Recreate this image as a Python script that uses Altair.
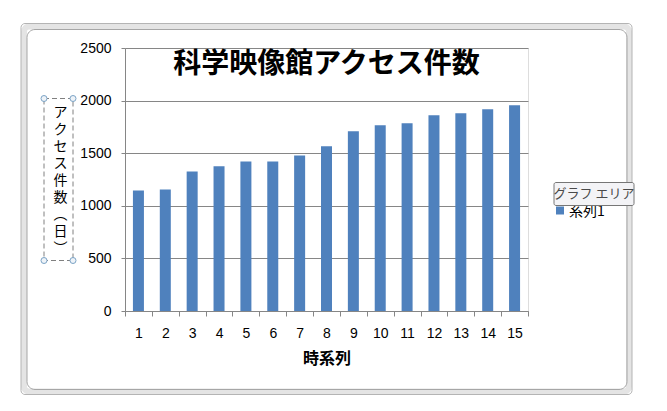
import altair as alt
import pandas as pd

# ---- data ----
periods = ["1", "2", "3", "4", "5", "6", "7", "8", "9", "10", "11", "12", "13", "14", "15"]
accesses = [1146, 1156, 1327, 1375, 1422, 1422, 1479, 1565, 1708, 1765, 1784, 1860, 1879, 1917, 1956]
series_name = "系列1"
y_ticks = [0, 500, 1000, 1500, 2000, 2500]
title_text = "科学映像館アクセス件数"
x_title = "時系列"
y_title_chars = ["ア", "ク", "セ", "ス", "件", "数", "︵", "日", "︶"]
tooltip_text = "グラフ エリア"

df = pd.DataFrame({"period": periods, "accesses": accesses, "series": [series_name] * len(periods)})
one = pd.DataFrame({"k": [0]})

JP = "Noto Sans CJK JP"
NUM = "Liberation Sans"
BLUE = "#4f81bd"
GRID = "#868686"

bars = alt.Chart(df).mark_bar(size=11, color=BLUE).encode(
    x=alt.X(
        "period:N",
        sort=periods,
        scale=alt.Scale(paddingInner=0, paddingOuter=0),
        axis=alt.Axis(
            title=x_title,
            labelAngle=0,
            tickBand="extent",
            tickSize=5,
            tickColor=GRID,
            domainColor=GRID,
            labelFont=NUM,
            labelFontSize=14,
            labelColor="#000000",
            labelPadding=10,
            titleFont=JP,
            titleFontSize=16,
            titleFontWeight="bold",
            titleColor="#000000",
            titlePadding=10,
            grid=False,
        ),
    ),
    y=alt.Y(
        "accesses:Q",
        scale=alt.Scale(domain=[0, 2500]),
        axis=alt.Axis(
            values=y_ticks,
            format="d",
            title=y_title_chars,
            titleAngle=0,
            titleFont=JP,
            titleFontSize=14,
            titleFontWeight="normal",
            titleColor="#000000",
            titleAlign="center",
            titleBaseline="top",
            titleLineHeight=17,
            titleX=-65,
            titleY=57,
            grid=True,
            gridColor=GRID,
            domainColor=GRID,
            tickColor=GRID,
            tickSize=4,
            labelFont=NUM,
            labelFontSize=14,
            labelColor="#000000",
            labelPadding=10,
        ),
    ),
)

# ---- decorations (chart-area frame, selection box, legend, tooltip) ----
def box(x1, x2, y1, y2, **kw):
    return alt.Chart(one).mark_rect(fillOpacity=0, **kw).encode(
        x=alt.value(x1), x2=alt.value(x2), y=alt.value(y1), y2=alt.value(y2)
    )

frame_band = box(-101, 504, -21.5, 343.5, stroke="#e4e4e4", strokeWidth=6, cornerRadius=5)
frame_outer = box(-104, 507, -24.5, 346.5, stroke="#b4b4b4", strokeWidth=1, cornerRadius=4)
frame_inner = box(-98, 502, -18.5, 341.5, stroke="#a6a6a6", strokeWidth=1, cornerRadius=8)

sel_box = box(-81, -52, 50.5, 212.5, stroke="#808080", strokeWidth=1, strokeDash=[5, 3])
handles = [
    alt.Chart(one).mark_point(filled=True, size=36, shape="circle", fill="#eef3f8",
                              stroke="#7ba3c6", strokeWidth=1, opacity=1).encode(
        x=alt.value(hx), y=alt.value(hy))
    for hx, hy in [(-81, 50.5), (-52, 50.5), (-81, 212.5), (-52, 212.5)]
]

legend_sym = alt.Chart(one).mark_square(size=64, color=BLUE, opacity=1).encode(
    x=alt.value(435), y=alt.value(162.5))
legend_lbl = alt.Chart(one).mark_text(text=series_name, font=JP, fontSize=14, align="left",
                                      baseline="middle", color="#000000").encode(
    x=alt.value(444), y=alt.value(164))

tip_box = alt.Chart(one).mark_rect(fill="#f3f3f6", stroke="#767676", strokeWidth=1,
                                   cornerRadius=2).encode(
    x=alt.value(429), x2=alt.value(509), y=alt.value(134.5), y2=alt.value(157.5))
tip_txt = alt.Chart(one).mark_text(text=tooltip_text, font=JP, fontSize=13, align="center",
                                   baseline="middle", color="#4a4a4a").encode(
    x=alt.value(469), y=alt.value(146))

chart = alt.layer(
    frame_band, frame_outer, frame_inner,
    bars,
    sel_box, *handles,
    legend_sym, legend_lbl,
    tip_box, tip_txt,
).properties(
    width=403,
    height=263,
    title=alt.TitleParams(
        text=title_text, font=JP, fontSize=28, fontWeight="bold", color="#000000",
        anchor="middle", baseline="middle", offset=0, dy=70,
    ),
    padding={"left": 117, "top": 40, "right": 120, "bottom": 90},
    autosize=alt.AutoSizeParams(type="none"),
).configure_view(
    stroke=None
).configure(
    background="#ffffff"
)

chart.save("out.html", embed_options={"renderer": "svg", "actions": False})
